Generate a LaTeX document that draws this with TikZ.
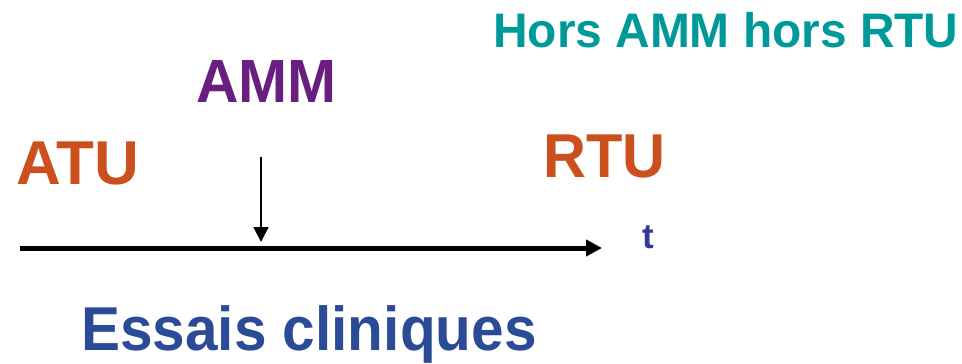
\documentclass[tikz,border=0pt]{standalone}
\usepackage{fontspec}
\usepackage{graphicx}
\setmainfont{Liberation Sans}
\usetikzlibrary{arrows.meta}
\definecolor{cOrange}{HTML}{CC4F1E}
\definecolor{cPurple}{HTML}{6A1F80}
\definecolor{cTeal}{HTML}{00999A}
\definecolor{cBlue}{HTML}{2B4B97}
\definecolor{cIndigo}{HTML}{36379A}
\tikzset{
  lbl/.style={anchor=base west, inner sep=0pt, font=\bfseries},
}
\begin{document}
\begin{tikzpicture}[x=1pt,y=-1pt]
\useasboundingbox (0,0) rectangle (962,364);
\node[lbl, text=cTeal, font=\bfseries\fontsize{48.5}{50}\selectfont] (hors) at (493,47) {\scalebox{0.987}[1]{Hors AMM hors RTU}};
\node[lbl, text=cPurple, font=\bfseries\fontsize{61}{62}\selectfont] (amm) at (196,102) {\scalebox{0.965}[1]{AMM}};
\node[lbl, text=cOrange, font=\bfseries\fontsize{62}{63}\selectfont] (atu) at (16,184) {ATU};
\node[lbl, text=cOrange, font=\bfseries\fontsize{62}{63}\selectfont] (rtu) at (543,177) {\scalebox{0.96}[1]{RTU}};
\node[lbl, text=cIndigo, font=\bfseries\fontsize{35}{36}\selectfont] (t) at (642,248) {t};
\node[lbl, text=cBlue, font=\bfseries\fontsize{62}{63}\selectfont] (ess) at (81,350) {\scalebox{0.944}[1]{Essais cliniques}};
\coordinate (a0) at (20,248);
\coordinate (a1) at (602,248);
\coordinate (v0) at (261,157);
\coordinate (v1) at (261,242);
\draw[line width=5pt, -{Triangle[length=16pt,width=16pt]}] (a0) -- (a1);
\draw[line width=1.8pt, -{Triangle[length=15pt,width=15pt]}] (v0) -- (v1);
\end{tikzpicture}
\end{document}
